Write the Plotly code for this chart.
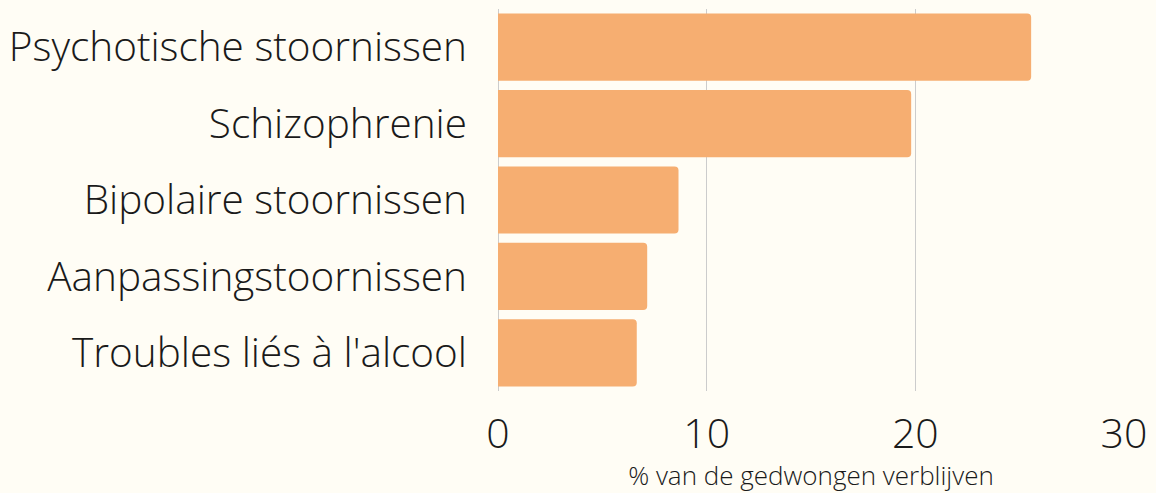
import plotly.graph_objects as go

categories = ["Psychotische stoornissen", "Schizophrenie", "Bipolaire stoornissen",
              "Aanpassingstoornissen", "Troubles liés à l'alcool"]
values = [25.55, 19.8, 8.65, 7.15, 6.65]
x_ticks = [0, 10, 20, 30]

BG = "#fffdf5"
BAR = "#f6ae71"
TXT = "#1a1a1a"

fig = go.Figure(go.Bar(
    x=values, y=categories, orientation="h",
    marker=dict(color=BAR, line=dict(width=0)),
    hoverinfo="skip",
))

fig.update_layout(
    width=1156, height=493,
    paper_bgcolor=BG, plot_bgcolor=BG,
    margin=dict(l=497, r=29, t=9, b=102),
    bargap=0.12,
    barcornerradius=4,
    showlegend=False,
    font=dict(family="Open Sans", weight=300, color=TXT),
    xaxis=dict(
        range=[0, 30], tickvals=x_ticks, ticktext=[str(t) for t in x_ticks],
        showgrid=True, gridcolor="#cccccc", gridwidth=1,
        zeroline=True, zerolinecolor="#cccccc", zerolinewidth=1,
        tickfont=dict(size=41, family="Open Sans", weight=300, color=TXT),
        ticklabelstandoff=15,
        title=dict(text="% van de gedwongen verblijven",
                   font=dict(size=26, family="Open Sans", weight=300, color=TXT),
                   standoff=1),
        showline=False, fixedrange=True,
    ),
    yaxis=dict(
        categoryorder="array", categoryarray=categories[::-1],
        tickfont=dict(size=40.5, family="Open Sans", weight=300, color=TXT),
        ticklabelstandoff=30,
        showgrid=False, showline=False, zeroline=False, fixedrange=True,
    ),
)

fig.write_html(
    "out.html",
    config={"displayModeBar": False},
    post_script="document.body.style.margin='0';document.body.style.background='#fffdf5';",
)
